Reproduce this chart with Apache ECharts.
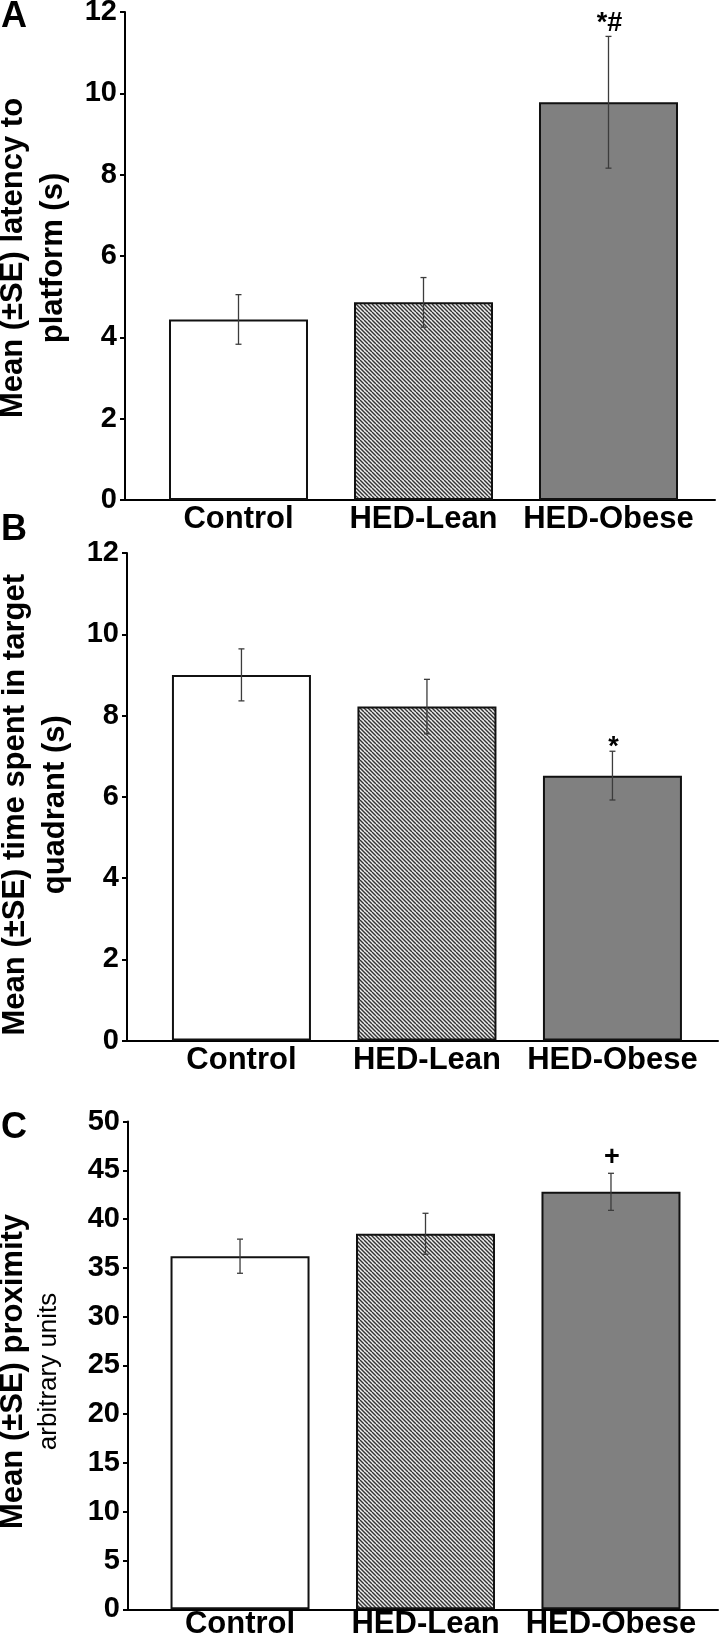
<!DOCTYPE html>
<html><head><meta charset="utf-8">
<script src="https://cdn.jsdelivr.net/npm/echarts@6/dist/echarts.min.js"></script>
<style>html,body{margin:0;padding:0;background:#fff}#c{width:720px;height:1637px}</style>
</head><body><div id="c"></div>
<script>
// ---- data ----
const categories = ['Control', 'HED-Lean', 'HED-Obese'];
const latencyMean = [4.44, 4.86, 9.78];
const latencySE = [0.61, 0.61, 1.62];
const latencyMarks = ['', '', '*#'];
const quadrantMean = [9.0, 8.22, 6.52];
const quadrantSE = [0.64, 0.67, 0.6];
const quadrantMarks = ['', '', '*'];
const proximityMean = [36.2, 38.5, 42.8];
const proximitySE = [1.75, 2.1, 1.9];
const proximityMarks = ['', '', '+'];
const latencyTicks = [0, 2, 4, 6, 8, 10, 12];
const quadrantTicks = [0, 2, 4, 6, 8, 10, 12];
const proximityTicks = [0, 5, 10, 15, 20, 25, 30, 35, 40, 45, 50];
const panelLetters = ['A', 'B', 'C'];
const yTitles = [
  'Mean (±SE) latency to\nplatform (s)',
  'Mean (±SE) time spent in target\nquadrant (s)',
  '{a|Mean (±SE) proximity}\n{b|arbitrary units}'
];

// ---- style helpers ----
const FONT = '"Liberation Sans", Arial, Helvetica, sans-serif';
function hatch() {
  const c = document.createElement('canvas'); c.width = 8; c.height = 8;
  const g = c.getContext('2d');
  g.fillStyle = '#ececec'; g.fillRect(0, 0, 8, 8);
  g.strokeStyle = '#333'; g.lineWidth = 1.4;
  for (let k = -8; k <= 8; k += 4) { g.beginPath(); g.moveTo(k, 0); g.lineTo(k + 8, 8); g.stroke(); }
  return c;
}
const barFills = ['#ffffff', { image: hatch(), repeat: 'repeat' }, '#808080'];
const markOffset = { '*#': 1, '*': 10, '+': -2 };

const layouts = [
  { left: 125, top: 12, height: 488, width: 590, xmin: -0.6135, xmax: 2.5757, labelMargin: 4, nameGap: 50, namePad: [0, 4, 0, 0], letterY: -1 },
  { left: 127, top: 553, height: 487.5, width: 591, xmin: -0.617, xmax: 2.569, labelMargin: 4, nameGap: 52, namePad: [0, 16, 0, 0], letterY: 512 },
  { left: 128, top: 1121.6, height: 487.7, width: 590, xmin: -0.604, xmax: 2.577, labelMargin: 0, nameGap: 62, namePad: [0, 12, 0, 0], letterY: 1110 }
];
const panels = [
  { mean: latencyMean, se: latencySE, marks: latencyMarks, ticks: latencyTicks },
  { mean: quadrantMean, se: quadrantSE, marks: quadrantMarks, ticks: quadrantTicks },
  { mean: proximityMean, se: proximitySE, marks: proximityMarks, ticks: proximityTicks }
];

const grid = [], xAxis = [], yAxis = [], series = [], graphic = [];
panels.forEach((p, i) => {
  const L = layouts[i];
  grid.push({ left: L.left, top: L.top, width: L.width, height: L.height, containLabel: false, outerBoundsMode: 'none' });
  xAxis.push({
    type: 'value', gridIndex: i, min: L.xmin, max: L.xmax,
    axisLine: { show: true, onZero: false, lineStyle: { color: '#000', width: 2 } },
    axisTick: { show: false }, splitLine: { show: false },
    axisLabel: {
      customValues: [0, 1, 2], margin: L.labelMargin,
      formatter: v => categories[Math.round(v)] || '',
      fontFamily: FONT, fontWeight: 'bold', fontSize: 31, color: '#000'
    }
  });
  const tmin = p.ticks[0], tmax = p.ticks[p.ticks.length - 1];
  yAxis.push({
    type: 'value', gridIndex: i, min: tmin, max: tmax, interval: p.ticks[1] - p.ticks[0],
    axisLine: { show: true, onZero: false, lineStyle: { color: '#000', width: 2 } },
    axisTick: { show: true, length: 5, lineStyle: { color: '#000', width: 2 } },
    splitLine: { show: false },
    axisLabel: { fontFamily: FONT, fontWeight: 'bold', fontSize: 29, color: '#000', margin: 8 },
    name: yTitles[i], nameLocation: 'middle', nameRotate: 90, nameGap: L.nameGap,
    nameTextStyle: {
      fontFamily: FONT, fontWeight: 'bold', fontSize: 31, color: '#000', lineHeight: 40, padding: L.namePad,
      rich: {
        a: { fontFamily: FONT, fontWeight: 'bold', fontSize: 31, lineHeight: 38, color: '#000' },
        b: { fontFamily: FONT, fontWeight: 'normal', fontSize: 26, lineHeight: 34, color: '#000' }
      }
    }
  });
  series.push({
    type: 'bar', xAxisIndex: i, yAxisIndex: i, barWidth: 139, z: 2,
    data: p.mean.map((m, j) => ({ value: [j, m], itemStyle: { color: barFills[j], borderColor: '#111', borderWidth: 2 } }))
  });
  series.push({
    type: 'custom', xAxisIndex: i, yAxisIndex: i, z: 10,
    data: p.mean.map((m, j) => [j, m, p.se[j]]),
    renderItem: (params, api) => {
      const x = api.value(0), m = api.value(1), s = api.value(2);
      const top = api.coord([x, m + s]), bot = api.coord([x, m - s]);
      const st = { stroke: '#3c3c3c', lineWidth: 1.3 };
      const children = [
        { type: 'line', shape: { x1: top[0], y1: top[1], x2: bot[0], y2: bot[1] }, style: st },
        { type: 'line', shape: { x1: top[0] - 3, y1: top[1], x2: top[0] + 3, y2: top[1] }, style: st },
        { type: 'line', shape: { x1: bot[0] - 3, y1: bot[1], x2: bot[0] + 3, y2: bot[1] }, style: st }
      ];
      const mk = p.marks[params.dataIndex];
      if (mk) {
        children.push({ type: 'text', x: top[0] + 1, y: top[1] + (markOffset[mk] || 0),
          style: { text: mk, fill: '#000', fontSize: 27, fontWeight: 'bold', fontFamily: FONT,
                   textAlign: 'center', textVerticalAlign: 'bottom', align: 'center', verticalAlign: 'bottom' } });
      }
      return { type: 'group', children };
    }
  });
  graphic.push({ type: 'text', left: 1, top: L.letterY,
    style: { text: panelLetters[i], fill: '#000', fontSize: 36, fontWeight: 'bold', fontFamily: FONT } });
});

const chart = echarts.init(document.getElementById('c'), null, { renderer: 'canvas' });
chart.setOption({ animation: false, backgroundColor: '#fff', graphic, grid, xAxis, yAxis, series });
</script>
</body></html>
